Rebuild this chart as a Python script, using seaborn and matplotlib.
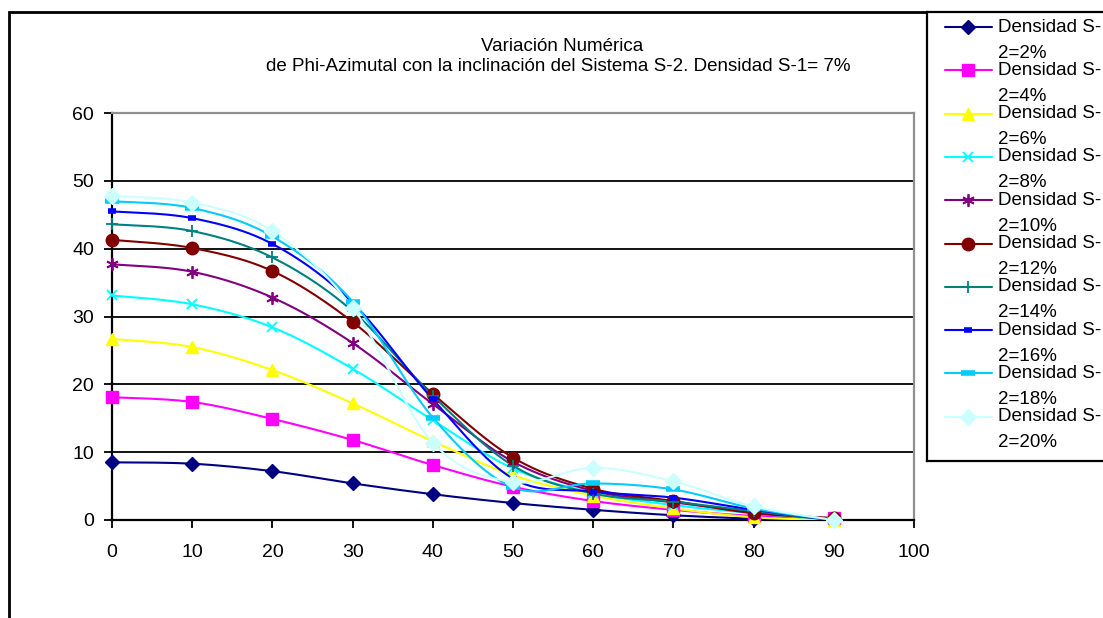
import numpy as np
import pandas as pd
import matplotlib
matplotlib.use("Agg")
import matplotlib.pyplot as plt
import seaborn as sns
from matplotlib.patches import Rectangle

# ---------------- data ----------------
angles = [0, 10, 20, 30, 40, 50, 60, 70, 80, 90]
d2 = [8.5, 8.3, 7.2, 5.4, 3.8, 2.5, 1.5, 0.7, 0.2, 0.0]
d4 = [18.1, 17.4, 14.9, 11.8, 8.1, 4.9, 2.8, 1.5, 0.6, 0.3]
d6 = [26.7, 25.5, 22.1, 17.2, 11.6, 6.6, 3.6, 1.7, 0.4, 0.0]
d8 = [33.1, 31.8, 28.4, 22.3, 14.7, 7.6, 4.0, 2.2, 1.0, 0.0]
d10 = [37.7, 36.6, 32.8, 26.1, 17.1, 8.6, 4.3, 2.6, 1.2, 0.0]
d12 = [41.3, 40.1, 36.7, 29.2, 18.6, 9.2, 4.6, 2.8, 1.0, 0.3]
d14 = [43.6, 42.6, 38.7, 30.8, 18.3, 8.0, 3.9, 2.7, 1.3, 0.0]
d16 = [45.5, 44.5, 40.7, 32.0, 17.8, 6.1, 4.2, 3.3, 1.5, 0.0]
d18 = [47.0, 46.0, 41.8, 32.2, 15.1, 4.8, 5.4, 4.5, 1.7, 0.0]
d20 = [47.8, 46.8, 42.6, 31.3, 11.4, 5.6, 7.7, 5.7, 2.0, 0.0]
series_values = [d2, d4, d6, d8, d10, d12, d14, d16, d18, d20]
series_labels = ["Densidad S-\n2=2%", "Densidad S-\n2=4%", "Densidad S-\n2=6%",
                 "Densidad S-\n2=8%", "Densidad S-\n2=10%", "Densidad S-\n2=12%",
                 "Densidad S-\n2=14%", "Densidad S-\n2=16%", "Densidad S-\n2=18%",
                 "Densidad S-\n2=20%"]
x_ticks = [0, 10, 20, 30, 40, 50, 60, 70, 80, 90, 100]
y_ticks = [0, 10, 20, 30, 40, 50, 60]
title_line1 = "Variación Numérica"
title_line2 = "de Phi-Azimutal con la inclinación del Sistema S-2. Densidad S-1= 7%"

# ---------------- styles ----------------
colors = ["#000080", "#FF00FF", "#FFFF00", "#00FFFF", "#800080",
          "#800000", "#008080", "#0000FF", "#00CCFF", "#CCFFFF"]
markers = [dict(marker="D", ms=7, mew=1),
           dict(marker="s", ms=8, mew=1),
           dict(marker="^", ms=9, mew=1),
           dict(marker="x", ms=7, mew=1.3),
           dict(marker=(6, 2, 0), ms=9, mew=1.3),
           dict(marker="o", ms=9, mew=1),
           dict(marker="+", ms=9, mew=1.3),
           dict(marker="_", ms=6, mew=4),
           dict(marker="_", ms=10, mew=4),
           dict(marker="D", ms=8, mew=1)]


def smooth(xs, ys, n=24):
    P = np.column_stack([np.asarray(xs, float), np.asarray(ys, float)])
    out = []
    for i in range(len(P) - 1):
        p0 = P[i - 1] if i > 0 else P[i]
        p1, p2 = P[i], P[i + 1]
        p3 = P[i + 2] if i + 2 < len(P) else P[i + 1]
        c1 = p1 + (p2 - p0) / 6.0
        c2 = p2 - (p3 - p1) / 6.0
        t = np.linspace(0, 1, n, endpoint=False)[:, None]
        out.append((1 - t) ** 3 * p1 + 3 * (1 - t) ** 2 * t * c1
                   + 3 * (1 - t) * t ** 2 * c2 + t ** 3 * p2)
    out.append(P[-1:])
    B = np.vstack(out)
    return B[:, 0], B[:, 1]


sns.set_style("white")
plt.rcParams["font.family"] = ["Liberation Sans", "DejaVu Sans"]

W, H = 1103, 618
fig = plt.figure(figsize=(W / 100, H / 100), dpi=100)
fig.patch.set_facecolor("white")


def fx(px):
    return px / W


def fy(py):
    return 1 - py / H


# outer chart frame
fig.add_artist(Rectangle((fx(9), fy(700)), 2.0, (700 - 12) / H, transform=fig.transFigure,
                         fill=False, edgecolor="black", lw=2, zorder=0))

ax = fig.add_axes([fx(112), fy(520), fx(914) - fx(112), fy(113) - fy(520)])
ax.set_facecolor("white")

for vals, col, mk in zip(series_values, colors, markers):
    sx, sy = smooth(angles, vals)
    df_line = pd.DataFrame({"x": sx, "y": sy})
    sns.lineplot(data=df_line, x="x", y="y", color=col, lw=1.5, ax=ax,
                 estimator=None, sort=False, legend=False, zorder=3)
    df_pts = pd.DataFrame({"x": angles, "y": vals})
    sns.lineplot(data=df_pts, x="x", y="y", color=col, linestyle="none", ax=ax,
                 estimator=None, sort=False, legend=False, zorder=4,
                 marker=mk["marker"], markersize=mk["ms"],
                 markeredgewidth=mk["mew"], markeredgecolor=col,
                 markerfacecolor=col, clip_on=False)

ax.set_xlim(0, 100)
ax.set_ylim(0, 60)
ax.set_xticks(x_ticks)
ax.set_yticks(y_ticks)
ax.set_xticklabels([str(v) for v in x_ticks])
ax.set_yticklabels([str(v) for v in y_ticks])
ax.set_xlabel("")
ax.set_ylabel("")
ax.yaxis.grid(True, color="black", lw=1.3, zorder=1)
ax.xaxis.grid(False)
ax.set_axisbelow(True)
ygl = ax.get_ygridlines()
ygl[-1].set_color("#909090")
for s in ["left", "bottom"]:
    ax.spines[s].set_color("black")
    ax.spines[s].set_linewidth(1.6)
for s in ["top", "right"]:
    ax.spines[s].set_color("#909090")
    ax.spines[s].set_linewidth(1.6)
ax.tick_params(axis="both", direction="out", length=6, width=1.3, color="black",
               labelsize=14, labelcolor="black")
ax.tick_params(axis="y", pad=7)
ax.tick_params(axis="x", pad=11)
ax.tick_params(left=True, bottom=True)

# title
fig.text(fx(562), fy(51), title_line1, ha="center", va="baseline", fontsize=13.5, color="black")
fig.text(fx(558), fy(71), title_line2, ha="center", va="baseline", fontsize=13.5, color="black")

# legend box
lax = fig.add_axes([fx(927), fy(461), 0.3, fy(12) - fy(461)])
lax.set_xlim(927, 927 + 0.3 * W)
lax.set_ylim(461, 12)
lax.set_xticks([])
lax.set_yticks([])
for s in lax.spines.values():
    s.set_color("black")
    s.set_linewidth(1.6)
lax.set_facecolor("white")
for i, (lab, col, mk) in enumerate(zip(series_labels, colors, markers)):
    yy = 27 + i * 43.3
    lax.plot([945, 992], [yy, yy], color=col, lw=1.5)
    lax.plot([968.5], [yy], linestyle="none", color=col, marker=mk["marker"],
             markersize=mk["ms"], markeredgewidth=mk["mew"], markeredgecolor=col,
             markerfacecolor=col)
    first, second = lab.split("\n")
    lax.text(998, yy, first, ha="left", va="center", fontsize=13.5, color="black")
    lax.text(998, yy + 26, second, ha="left", va="center", fontsize=13.5, color="black")

fig.savefig("out.png", dpi=100, facecolor="white")
